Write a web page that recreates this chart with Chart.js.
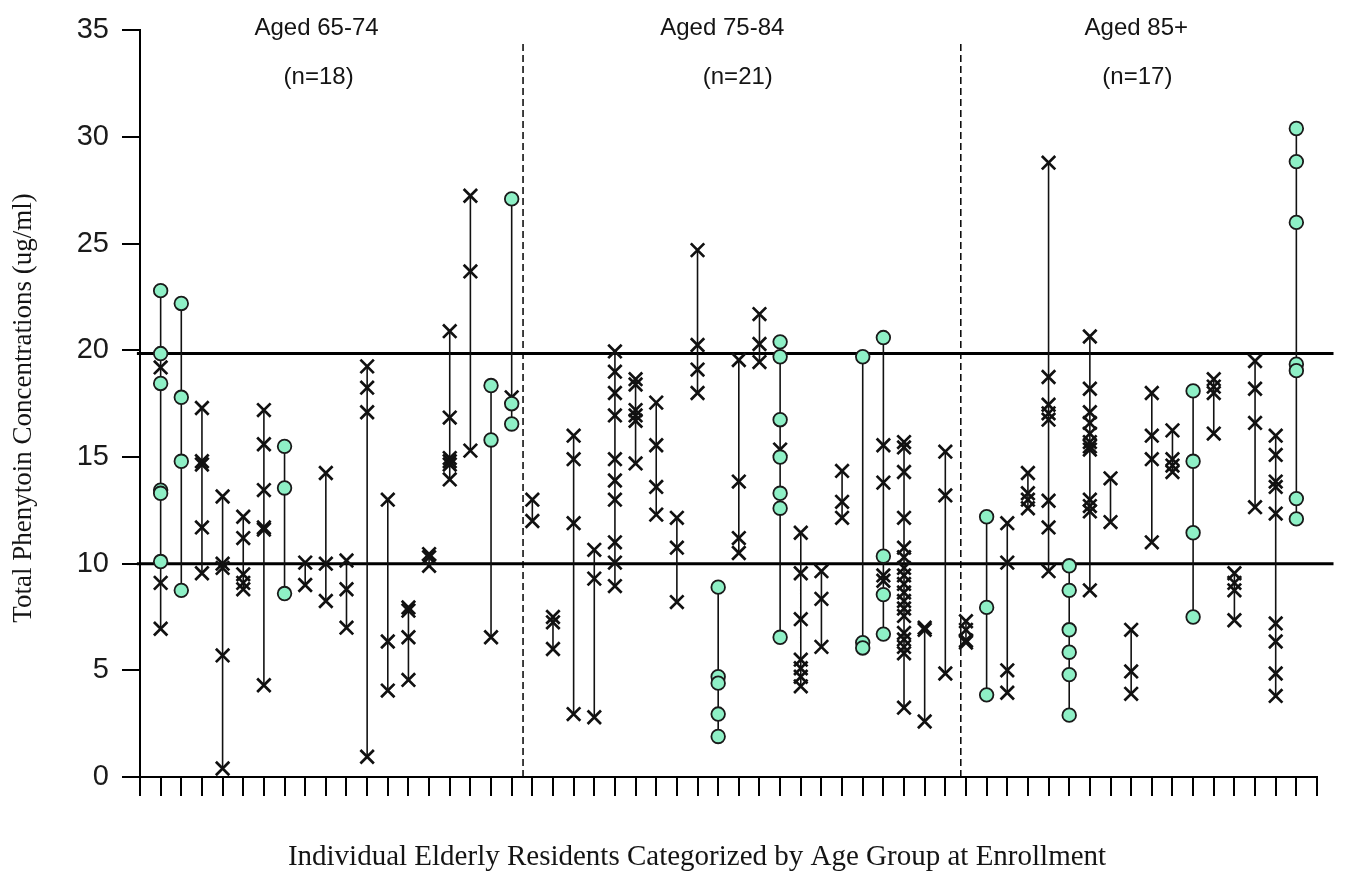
<!DOCTYPE html>
<html><head><meta charset="utf-8">
<script src="https://cdn.jsdelivr.net/npm/chart.js@4.4.1/dist/chart.umd.min.js"></script>
<style>html,body{margin:0;padding:0;background:#fff;overflow:hidden;}</style>
</head><body>
<canvas id="c" width="1345" height="872"></canvas>
<script>
// ---- Text ----
const ageGroupLabels = ['Aged 65-74', 'Aged 75-84', 'Aged 85+'];
const ageGroupCounts = ['(n=18)', '(n=21)', '(n=17)'];
const groupLabelX = [8.55, 28.2, 48.25];      // in resident-index units
const groupCountX = [8.65, 28.95, 48.3];      // in resident-index units
const groupDividerX = [18.55, 39.75];          // in resident-index units
const referenceLevels = [10, 19.85];
const yTitle = 'Total Phenytoin Concentrations (ug/ml)';
const xTitle = 'Individual Elderly Residents Categorized by Age Group at Enrollment';

// ---- Data: per resident, measured concentrations (ug/ml) ----
// Aged 65-74 (residents 1-18)
const crosses65 = [
  [19.2, 9.1, 6.95], [], [17.3, 14.8, 14.65, 11.7, 9.55], [13.15, 10.0, 9.8, 5.7, 0.4],
  [12.2, 11.2, 9.5, 9.1, 8.8], [17.2, 15.6, 13.45, 11.7, 11.6, 4.3], [], [10.05, 9.0],
  [14.25, 10.0, 8.25], [10.15, 8.8, 7.0], [19.25, 18.25, 17.1, 0.95], [13.0, 6.35, 4.05],
  [7.95, 7.8, 6.55, 4.55], [10.45, 10.3, 9.9], [20.9, 16.85, 14.95, 14.8, 14.65, 13.95],
  [27.25, 23.7, 15.3], [6.55], [17.8]
];
const circles65 = [
  [22.8, 19.85, 18.45, 13.45, 13.3, 10.1], [22.2, 17.8, 14.8, 8.75], [], [],
  [], [], [15.5, 13.55, 8.6], [],
  [], [], [], [],
  [], [], [],
  [], [18.35, 15.8], [27.1, 17.5, 16.55]
];
// Aged 75-84 (residents 19-39)
const crosses75 = [
  [13.0, 12.0], [7.5, 7.25, 6.0], [16.0, 14.9, 11.9, 2.95], [10.65, 9.3, 2.8],
  [19.95, 19.0, 18.0, 16.95, 14.9, 13.9, 13.0, 11.0, 10.05, 8.95],
  [18.65, 18.4, 17.2, 16.95, 16.7, 14.7], [17.55, 15.55, 13.6, 12.3], [12.15, 10.75, 8.2],
  [24.7, 20.25, 19.1, 18.0], [], [19.55, 13.85, 11.2, 10.5], [21.7, 20.3, 19.45],
  [15.35], [11.45, 9.55, 7.4, 5.5, 5.1, 4.7, 4.25], [9.65, 8.35, 6.1], [14.35, 12.9, 12.15],
  [], [15.55, 13.8, 9.45, 9.2],
  [15.7, 15.45, 14.3, 12.15, 10.75, 10.3, 9.8, 9.45, 9.05, 8.65, 8.25, 7.9, 7.55, 6.75, 6.45, 6.1, 5.8, 3.25],
  [7.0, 6.9, 2.6], [15.25, 13.2, 4.85]
];
const circles75 = [
  [], [], [], [], [], [], [], [], [],
  [8.9, 4.7, 4.4, 2.95, 1.9], [], [],
  [20.4, 19.7, 16.75, 15.0, 13.3, 12.6, 6.55], [], [], [],
  [19.7, 6.3, 6.05], [20.6, 10.35, 8.55, 6.7], [], [], []
];
// Aged 85+ (residents 40-56)
const crosses85 = [
  [7.3, 6.9, 6.4, 6.3], [], [11.9, 10.05, 5.0, 3.95], [14.25, 13.3, 13.0, 12.6],
  [28.8, 18.75, 17.45, 17.05, 16.75, 12.95, 11.7, 9.65], [],
  [20.65, 18.2, 17.1, 16.6, 16.1, 15.7, 15.5, 15.35, 13.0, 12.7, 12.45, 8.75],
  [14.0, 11.95], [6.9, 4.95, 3.9], [18.0, 16.0, 14.9, 11.0], [16.25, 14.9, 14.6, 14.3],
  [], [18.65, 18.3, 18.0, 16.1], [9.55, 9.1, 8.75, 7.35], [19.5, 18.2, 16.6, 12.65],
  [16.0, 15.1, 13.85, 13.6, 12.35, 7.2, 6.35, 4.85, 3.8], []
];
const circles85 = [
  [], [12.2, 7.95, 3.85], [], [], [], [9.9, 8.75, 6.9, 5.85, 4.8, 2.9],
  [], [], [], [], [], [18.1, 14.8, 11.45, 7.5], [], [], [], [],
  [30.4, 28.85, 26.0, 19.35, 19.05, 13.05, 12.1]
];

// ---- Build datasets ----
const allCrosses = crosses65.concat(crosses75, crosses85);
const allCircles = circles65.concat(circles75, circles85);
const crossPts = [], circlePts = [], whiskerPts = [];
allCrosses.forEach((vals, i) => {
  const x = i + 1;
  vals.forEach(v => crossPts.push({x, y: v}));
  const all = vals.concat(allCircles[i]);
  whiskerPts.push({x, y: Math.min(...all)}, {x, y: Math.max(...all)}, {x, y: null});
});
allCircles.forEach((vals, i) => vals.forEach(v => circlePts.push({x: i + 1, y: v})));

const datasets = [
  {label: 'range', data: whiskerPts, showLine: true, spanGaps: false, borderColor: '#111',
   borderWidth: 1.6, pointRadius: 0, order: 5},
  {label: 'measured', data: crossPts, pointStyle: 'crossRot', pointRadius: 9.5, pointHoverRadius: 9.5,
   borderColor: '#111', pointBorderWidth: 2.7, backgroundColor: '#111', order: 2},
  {label: 'measured (marked)', data: circlePts, pointStyle: 'circle', pointRadius: 6.8, pointHoverRadius: 6.8,
   backgroundColor: '#8ef0c6', borderColor: '#1a1a1a', pointBorderWidth: 1.8, order: 1}
];
referenceLevels.forEach(lv => datasets.push({
  data: [{x: -0.15, y: lv}, {x: 57.8, y: lv}], showLine: true, clip: false,
  borderColor: '#000', borderWidth: 3, pointRadius: 0, order: 6}));
groupDividerX.forEach(d => datasets.push({
  data: [{x: d, y: 0}, {x: d, y: 34.5}], showLine: true, borderDash: [7, 4],
  borderColor: '#000', borderWidth: 1.5, pointRadius: 0, order: 6}));

const textPlugin = {
  id: 'texts',
  afterDraw(chart) {
    const ctx = chart.ctx, xs = chart.scales.x;
    ctx.save();
    ctx.fillStyle = '#141414';
    ctx.textAlign = 'center';
    ctx.textBaseline = 'middle';
    ctx.font = '24px "Liberation Sans", Arial, sans-serif';
    ageGroupLabels.forEach((t, i) => {
      ctx.fillText(t, xs.getPixelForValue(groupLabelX[i]), 28);
      ctx.fillText(ageGroupCounts[i], xs.getPixelForValue(groupCountX[i]), 77);
    });
    ctx.font = '29px "Liberation Serif", "Times New Roman", serif';
    ctx.fillText(xTitle, 697, 857);
    ctx.translate(24, 408);
    ctx.rotate(-Math.PI / 2);
    ctx.font = '27px "Liberation Serif", "Times New Roman", serif';
    ctx.fillText(yTitle, 0, 0);
    ctx.restore();
  }
};

new Chart(document.getElementById('c'), {
  type: 'scatter',
  data: {datasets},
  plugins: [textPlugin],
  options: {
    responsive: false,
    animation: false,
    events: [],
    layout: {padding: {left: 0, right: 28, top: 24, bottom: 0}},
    plugins: {legend: {display: false}, tooltip: {enabled: false}},
    scales: {
      x: {
        type: 'linear', min: 0, max: 57,
        ticks: {stepSize: 1, display: false, autoSkip: false},
        grid: {drawOnChartArea: false, tickLength: 19, color: '#000', lineWidth: 2},
        border: {color: '#000', width: 2},
        afterFit: s => { s.height = 95; }
      },
      y: {
        min: 0, max: 35,
        ticks: {stepSize: 5, padding: 13, color: '#1a1a1a',
                font: {family: '"Liberation Sans", Arial, sans-serif', size: 29}},
        grid: {drawOnChartArea: false, tickLength: 18, color: '#000', lineWidth: 2},
        border: {color: '#000', width: 2},
        afterFit: s => { s.width = 140; }
      }
    }
  }
});
</script>
</body></html>
